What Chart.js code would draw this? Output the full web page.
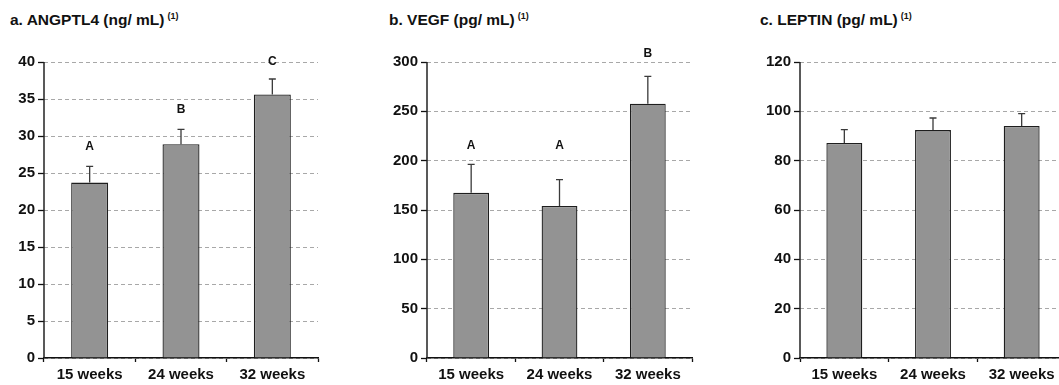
<!DOCTYPE html>
<html>
<head>
<meta charset="utf-8">
<script src="https://cdn.jsdelivr.net/npm/chart.js@4/dist/chart.umd.min.js"></script>
<style>
  html, body { margin: 0; padding: 0; background: #fff; overflow: hidden; }
  body { width: 1059px; height: 385px; position: relative; font-family: Arial, "Liberation Sans", sans-serif; }
  .title { position: absolute; top: 11px; font-weight: bold; font-size: 15.5px; color: #111; white-space: nowrap; }
  .title sup { font-size: 9px; vertical-align: 6px; margin-left: 3px; }
  canvas { position: absolute; top: 40px; }
</style>
</head>
<body>
<div class="title" style="left:10px">a. ANGPTL4 (ng/ mL)<sup>(1)</sup></div>
<div class="title" style="left:389px">b. VEGF (pg/ mL)<sup>(1)</sup></div>
<div class="title" style="left:760px">c. LEPTIN (pg/ mL)<sup>(1)</sup></div>
<canvas id="chartA" width="330" height="345" style="left:0px"></canvas>
<canvas id="chartB" width="345" height="345" style="left:360px"></canvas>
<canvas id="chartC" width="346" height="345" style="left:720px"></canvas>
<script>
// categories
const weeks = ['15 weeks', '24 weeks', '32 weeks'];

// a. ANGPTL4 (ng/mL): means, upper error, significance letters
const angptl4Mean = [23.7, 28.9, 35.6];
const angptl4Err = [2.2, 2.0, 2.1];
const angptl4Letters = ['A', 'B', 'C'];
const angptl4LetterPos = [28.6, 33.5, 40.1];

// b. VEGF (pg/mL)
const vegfMean = [167.4, 154.0, 257.8];
const vegfErr = [28.9, 26.8, 27.7];
const vegfLetters = ['A', 'A', 'B'];
const vegfLetterPos = [214.7, 214.7, 308.8];

// c. LEPTIN (pg/mL) - no letters
const leptinMean = [87.2, 92.4, 94.1];
const leptinErr = [5.4, 4.9, 5.0];

const FONT = 'Arial, "Liberation Sans", sans-serif';

// draws the upper error bar and letter above each bar
const errorBarPlugin = {
    id: 'errorBars',
    afterDatasetsDraw(chart, args, opts) {
        const ctx = chart.ctx;
        const yScale = chart.scales.y;
        const meta = chart.getDatasetMeta(0);
        ctx.save();
        meta.data.forEach((bar, i) => {
            const top = yScale.getPixelForValue(opts.means[i] + opts.errs[i]);
            ctx.beginPath();
            ctx.strokeStyle = '#3a3a3a';
            ctx.lineWidth = 1.3;
            ctx.moveTo(bar.x, bar.y);
            ctx.lineTo(bar.x, top);
            ctx.moveTo(bar.x - 3.5, top);
            ctx.lineTo(bar.x + 3.5, top);
            ctx.stroke();
            if (opts.letters && opts.letters[i]) {
                ctx.fillStyle = '#111';
                ctx.font = 'bold 12px ' + FONT;
                ctx.textAlign = 'center';
                ctx.textBaseline = 'middle';
                ctx.fillText(opts.letters[i], bar.x, yScale.getPixelForValue(opts.letterPos[i]));
            }
        });
        ctx.restore();
    }
};

// solid vertical axis line on the left of the plot
const yAxisLinePlugin = {
    id: 'yAxisLine',
    afterDraw(chart) {
        const { ctx, chartArea } = chart;
        ctx.save();
        ctx.setLineDash([]);
        ctx.strokeStyle = '#222';
        ctx.lineWidth = 1.5;
        ctx.beginPath();
        ctx.moveTo(chartArea.left, chartArea.top);
        ctx.lineTo(chartArea.left, chartArea.bottom);
        ctx.stroke();
        ctx.restore();
    }
};

function makeChart(id, means, errs, letters, letterPos, maxY, step, yWidth, padRight) {
    const ctx = document.getElementById(id).getContext('2d');
    return new Chart(ctx, {
        type: 'bar',
        data: {
            labels: weeks,
            datasets: [{
                data: means,
                backgroundColor: '#939393',
                borderColor: '#1e1e1e',
                borderWidth: 1.3,
                categoryPercentage: 1,
                barPercentage: 0.405
            }]
        },
        options: {
            responsive: false,
            animation: false,
            devicePixelRatio: 1,
            layout: { padding: { top: 22, right: padRight, left: 0, bottom: 0 } },
            plugins: {
                legend: { display: false },
                tooltip: { enabled: false },
                errorBars: { means, errs, letters, letterPos }
            },
            scales: {
                x: {
                    grid: {
                        drawOnChartArea: false,
                        drawTicks: true,
                        tickLength: 4,
                        tickColor: '#111',
                        tickWidth: 1.3
                    },
                    border: { color: '#111', width: 1.5 },
                    ticks: {
                        color: '#111',
                        padding: 4,
                        font: { family: FONT, size: 15, weight: 'bold' }
                    },
                    afterFit: (s) => { s.height = 27; }
                },
                y: {
                    min: 0,
                    max: maxY,
                    grid: {
                        color: '#a8a8a8',
                        lineWidth: 1,
                        tickLength: 6,
                        tickColor: '#111',
                        tickBorderDash: [],
                        tickWidth: 1.3
                    },
                    border: { display: false, dash: [4, 3] },
                    ticks: {
                        stepSize: step,
                        color: '#111',
                        padding: 3,
                        font: { family: FONT, size: 15, weight: 'bold' }
                    },
                    afterFit: (s) => { s.width = yWidth; }
                }
            }
        },
        plugins: [errorBarPlugin, yAxisLinePlugin]
    });
}

makeChart('chartA', angptl4Mean, angptl4Err, angptl4Letters, angptl4LetterPos, 40, 5, 44, 12);
makeChart('chartB', vegfMean, vegfErr, vegfLetters, vegfLetterPos, 300, 50, 67, 13);
makeChart('chartC', leptinMean, leptinErr, null, null, 120, 20, 80, 0);
</script>
</body>
</html>
